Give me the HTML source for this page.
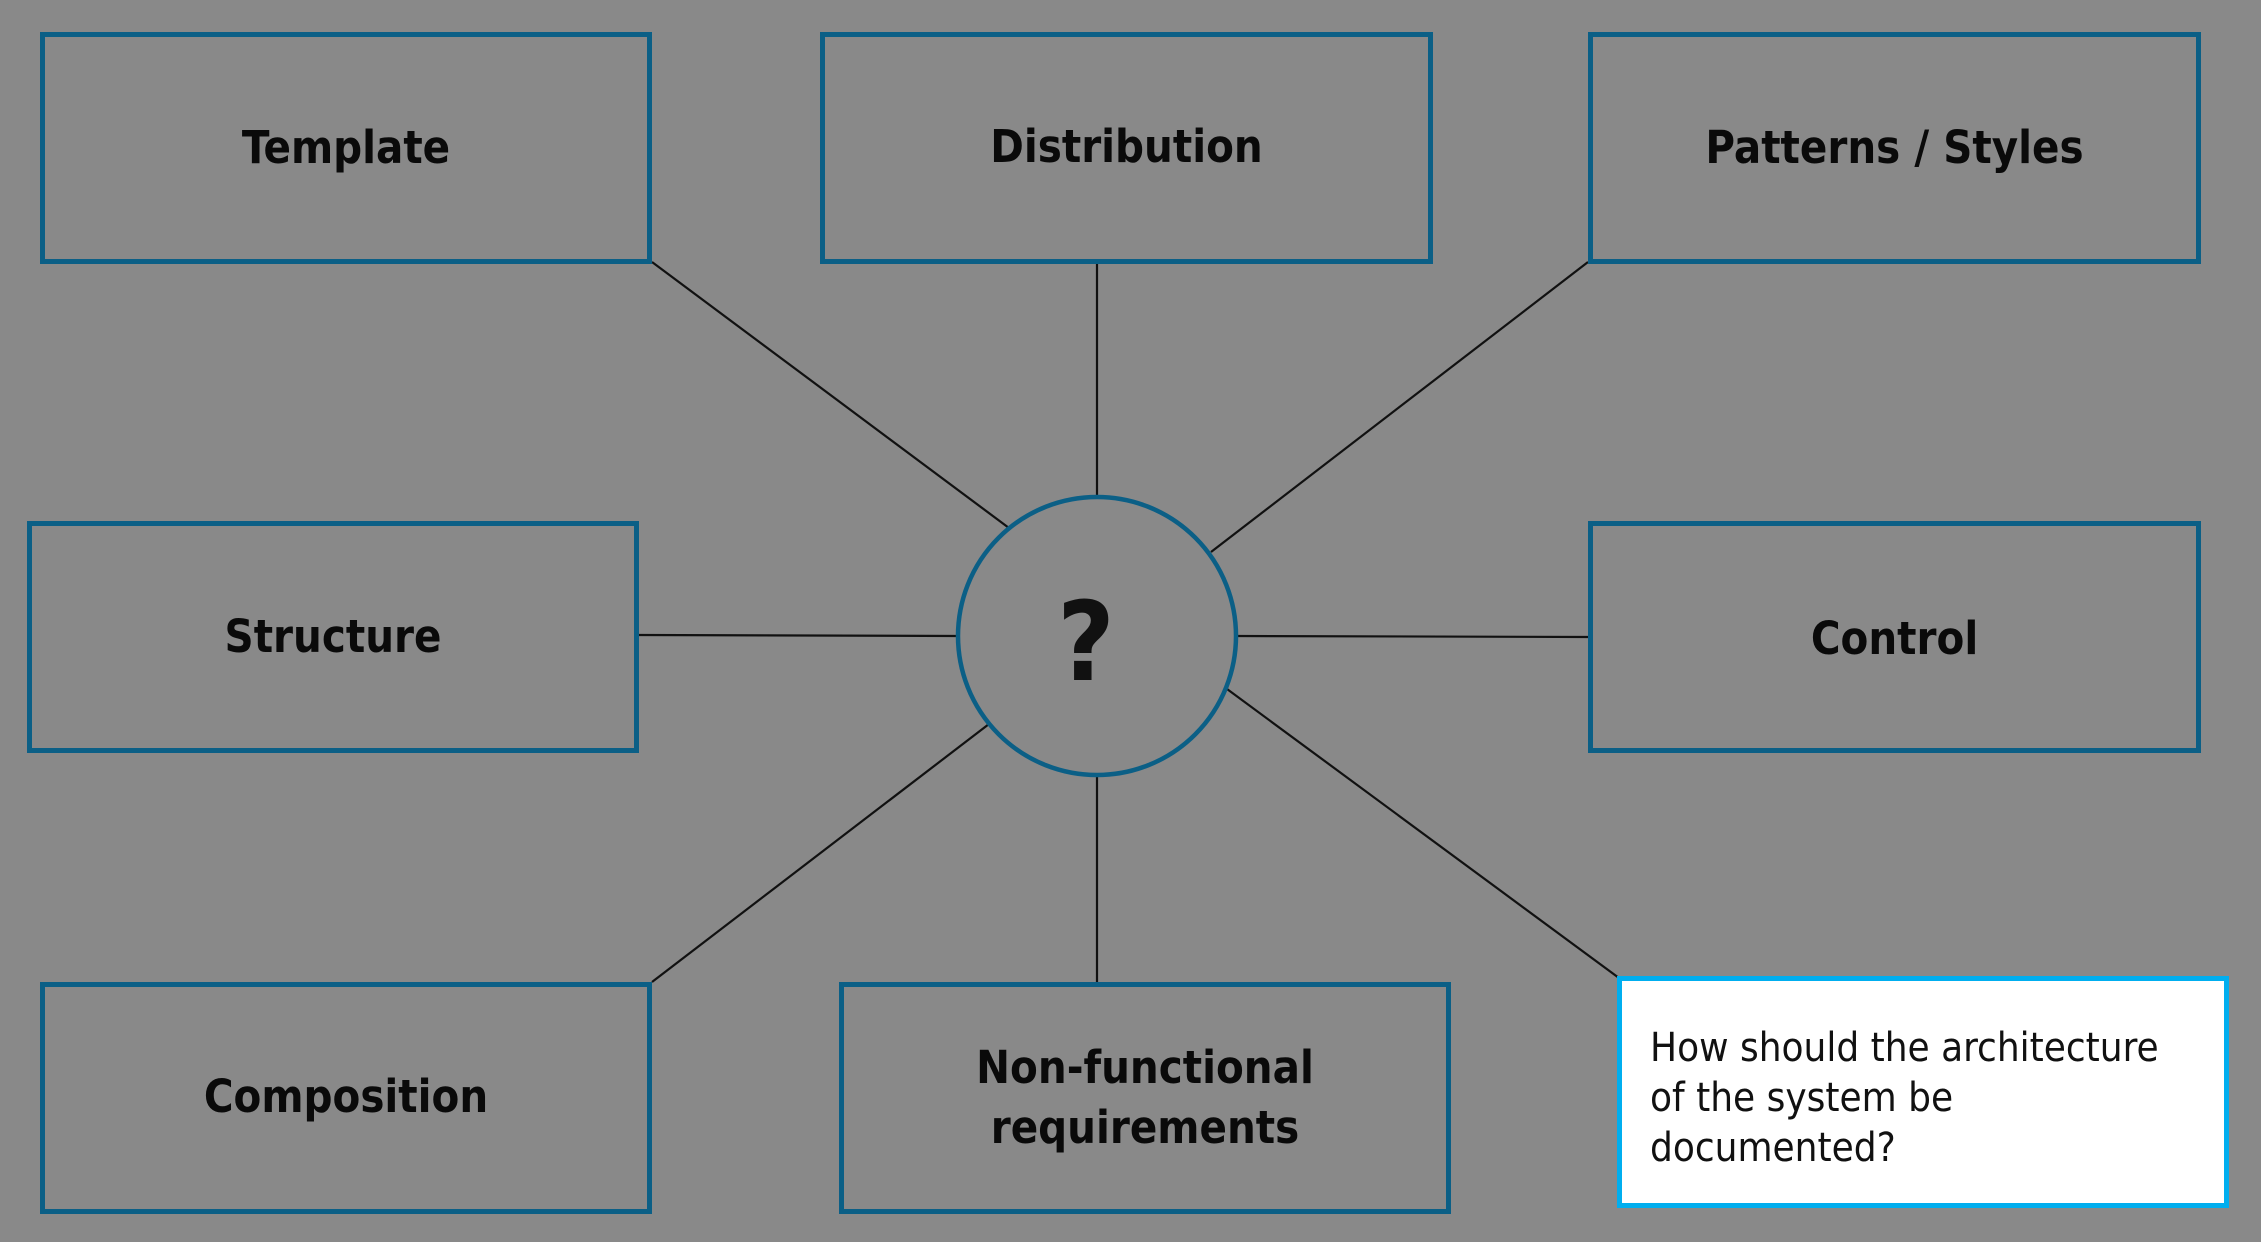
<!DOCTYPE html>
<html><head><meta charset="utf-8"><style>
html,body{margin:0;padding:0;}
body{width:2261px;height:1242px;background:#898989;position:relative;overflow:hidden;font-family:"Liberation Sans Narrow","DejaVu Sans Condensed","Liberation Sans",sans-serif;}
.b{position:absolute;box-sizing:border-box;border:5px solid #0b5f86;display:flex;align-items:center;justify-content:center;text-align:center;font-weight:bold;font-size:45px;color:#0a0a0a;line-height:60px;}
svg{position:absolute;left:0;top:0;}
.note{position:absolute;left:1617px;top:976px;width:612px;height:232px;box-sizing:border-box;border:5px solid #00aeef;background:#fff;padding:42px 0 0 28px;font-size:40px;line-height:50px;color:#111;}
</style></head><body>
<svg width="2261" height="1242">
<g stroke="#111" stroke-width="2.2">
<line x1="652" y1="262" x2="1009" y2="528"/>
<line x1="1097" y1="262" x2="1097" y2="497"/>
<line x1="1588" y1="262" x2="1211" y2="552"/>
<line x1="639" y1="635" x2="958" y2="636"/>
<line x1="1236" y1="636" x2="1588" y2="637"/>
<line x1="652" y1="982" x2="989" y2="724"/>
<line x1="1097" y1="775" x2="1097" y2="982"/>
<line x1="1227" y1="689" x2="1619" y2="978"/>
</g>
<circle cx="1097" cy="636" r="139" fill="none" stroke="#0b5f86" stroke-width="4.5"/>
<text x="1086" y="680" text-anchor="middle" font-family="Liberation Sans Narrow, DejaVu Sans Condensed, sans-serif" font-weight="bold" font-size="110" fill="#111">?</text>
</svg>
<div class="b" style="left:40px;top:32px;width:612px;height:232px;padding-bottom:0px">Template</div>
<div class="b" style="left:820px;top:32px;width:613px;height:232px;padding-bottom:2px">Distribution</div>
<div class="b" style="left:1588px;top:32px;width:613px;height:232px;padding-top:0px">Patterns / Styles</div>
<div class="b" style="left:27px;top:521px;width:612px;height:232px;padding-bottom:0px">Structure</div>
<div class="b" style="left:1588px;top:521px;width:613px;height:232px;padding-top:4px">Control</div>
<div class="b" style="left:40px;top:982px;width:612px;height:232px;padding-bottom:2px">Composition</div>
<div class="b" style="left:839px;top:982px;width:612px;height:232px;padding-bottom:0px">Non-functional<br>requirements</div>
<div class="note">How should the architecture<br>of the system be<br>documented?</div>
</body></html>
